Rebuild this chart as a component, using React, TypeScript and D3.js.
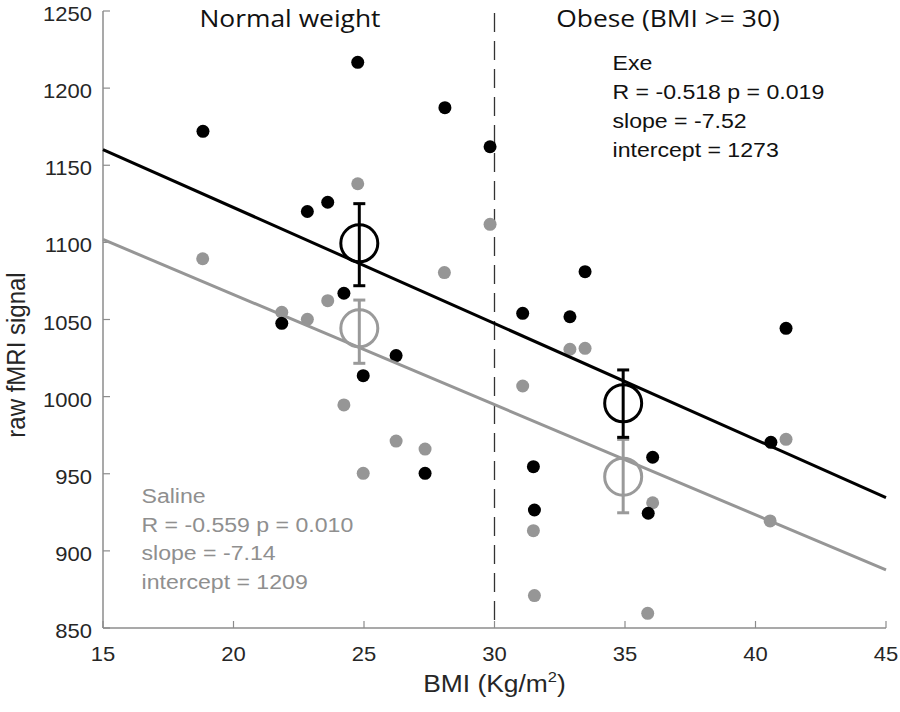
import React from "react";
import * as d3 from "d3";

// ---- data ----
const exeX = [18.83, 24.76, 28.10, 29.83, 23.61, 22.83, 21.85, 24.23, 26.23, 24.97, 27.34, 33.47, 31.08, 32.89, 31.49, 31.53, 41.17, 40.59, 36.06, 35.89];
const exeY = [1172, 1216.7, 1187.3, 1162, 1126, 1120, 1047.5, 1067, 1026.6, 1013.6, 950.3, 1081, 1054, 1051.8, 954.6, 926.5, 1044.3, 970.4, 960.7, 924.4];
const salX = [18.82, 21.85, 22.83, 23.61, 24.76, 29.83, 28.08, 24.23, 26.23, 27.34, 24.97, 32.89, 33.47, 31.08, 31.49, 31.53, 41.17, 36.06, 40.56, 35.87];
const salY = [1089.4, 1054.7, 1050.1, 1062.2, 1138, 1111.7, 1080.4, 994.6, 971.2, 966, 950.3, 1030.7, 1031.3, 1006.9, 913.1, 871, 972.3, 931.2, 919.4, 859.5];

const meanX = [24.82, 34.93];
const exeMean = [1099.4, 995.7];
const exeLo = [1071.9, 973.6];
const exeHi = [1125.1, 1017.3];
const salMean = [1044.3, 948.1];
const salLo = [1021.6, 924.7];
const salHi = [1062.6, 972.3];

const exeFit = { slope: -7.52, intercept: 1273 };
const salFit = { slope: -7.14, intercept: 1209 };

const xTicks = [15, 20, 25, 30, 35, 40, 45];
const yTicks = [850, 900, 950, 1000, 1050, 1100, 1150, 1200, 1250];
const groupLabels = ["Normal weight", "Obese (BMI >= 30)"];
const groupCenters = [290, 668];
const exeText = ["Exe", "R = -0.518 p = 0.019", "slope = -7.52", "intercept = 1273"];
const salText = ["Saline", "R = -0.559 p = 0.010", "slope = -7.14", "intercept = 1209"];

const BLACK = "#000";
const GRAY = "#969696";
const SX = 1.1;

export default function App() {
  const x = d3.scaleLinear().domain([15, 45]).range([103, 886]);
  const y = d3.scaleLinear().domain([850, 1250]).range([628, 11]);
  const x0 = x.domain()[0], x1 = x.domain()[1];
  const fitLine = (f: { slope: number; intercept: number }) =>
    d3.line<number>().x((d) => x(d)).y((d) => y(f.intercept + f.slope * d))([x0, x1]) as string;

  const font = "'Liberation Sans', Arial, Helvetica, sans-serif";
  const axisCol = "#8c8c8c";
  const tickCol = "#262626";

  const errBar = (i: number, mean: number[], lo: number[], hi: number[], col: string, key: string) => {
    const cx = x(meanX[i]);
    return (
      <g key={key} stroke={col} strokeWidth={3} fill="none">
        <line x1={cx} x2={cx} y1={y(lo[i])} y2={y(hi[i])} />
        <line x1={cx - 6} x2={cx + 6} y1={y(lo[i])} y2={y(lo[i])} />
        <line x1={cx - 6} x2={cx + 6} y1={y(hi[i])} y2={y(hi[i])} />
        <circle cx={cx} cy={y(mean[i])} r={18.5} />
      </g>
    );
  };

  return (
    <svg width={900} height={712} style={{ position: "absolute", left: 0, top: 0, background: "#fff" }}>
      <rect width={900} height={712} fill="#fff" />
      {/* axes */}
      <line x1={103} x2={103} y1={y(1250)} y2={y(850)} stroke={axisCol} strokeWidth={1.5} />
      <line x1={103} x2={x(45)} y1={y(850)} y2={y(850)} stroke={axisCol} strokeWidth={1.5} />
      {yTicks.map((t) => (
        <g key={"yt" + t}>
          <line x1={103} x2={110} y1={y(t)} y2={y(t)} stroke={axisCol} strokeWidth={1.2} />
          <text transform={`translate(92,${y(t) + 10}) scale(${SX},1)`} textAnchor="end" fontFamily={font} fontSize={20} fill={tickCol}>
            {t}
          </text>
        </g>
      ))}
      {xTicks.map((t) => (
        <g key={"xt" + t}>
          <line x1={x(t)} x2={x(t)} y1={y(850)} y2={y(850) - 7} stroke={axisCol} strokeWidth={1.2} />
          <text transform={`translate(${x(t)},661) scale(${SX},1)`} textAnchor="middle" fontFamily={font} fontSize={20} fill={tickCol}>
            {t}
          </text>
        </g>
      ))}
      <text transform={`translate(494.5,692) scale(${SX},1)`} textAnchor="middle" fontFamily={font} fontSize={24} fill={tickCol}>
        BMI (Kg/m<tspan fontSize={15} dy={-10}>2</tspan><tspan dy={10}>)</tspan>
      </text>
      <text transform={`translate(25,355) scale(${SX},1) rotate(-90)`} textAnchor="middle" fontFamily={font} fontSize={24} fill={tickCol}>
        raw fMRI signal
      </text>

      {/* divider */}
      <line x1={x(30)} x2={x(30)} y1={y(1250)} y2={y(850)} stroke="#333" strokeWidth={1.3} strokeDasharray="19,9" strokeDashoffset={-2} />

      {/* group labels */}
      {groupLabels.map((g, i) => (
        <text key={g} transform={`translate(${groupCenters[i]},27) scale(${SX},1)`} textAnchor="middle" fontFamily="'Open Sans', sans-serif" fontSize={24} fill="#111">
          {g}
        </text>
      ))}

      {/* points */}
      {salX.map((v, i) => (
        <circle key={"s" + i} cx={x(v)} cy={y(salY[i])} r={6.5} fill={GRAY} />
      ))}
      {exeX.map((v, i) => (
        <circle key={"e" + i} cx={x(v)} cy={y(exeY[i])} r={6.5} fill={BLACK} />
      ))}

      {/* fit lines */}
      <path d={fitLine(salFit)} stroke={GRAY} strokeWidth={3} fill="none" />
      <path d={fitLine(exeFit)} stroke={BLACK} strokeWidth={3} fill="none" />

      {/* means with error bars */}
      {meanX.map((_, i) => errBar(i, salMean, salLo, salHi, "#9a9a9a", "sm" + i))}
      {meanX.map((_, i) => errBar(i, exeMean, exeLo, exeHi, BLACK, "em" + i))}

      {/* annotations */}
      {exeText.map((t, i) => (
        <text key={"et" + i} transform={`translate(612.5,${70 + i * 29}) scale(${SX},1)`} fontFamily={font} fontSize={21} fill="#111">
          {t}
        </text>
      ))}
      {salText.map((t, i) => (
        <text key={"st" + i} transform={`translate(141.5,${503 + i * 28.5}) scale(${SX},1)`} fontFamily={font} fontSize={21} fill="#8f8f8f">
          {t}
        </text>
      ))}
    </svg>
  );
}
